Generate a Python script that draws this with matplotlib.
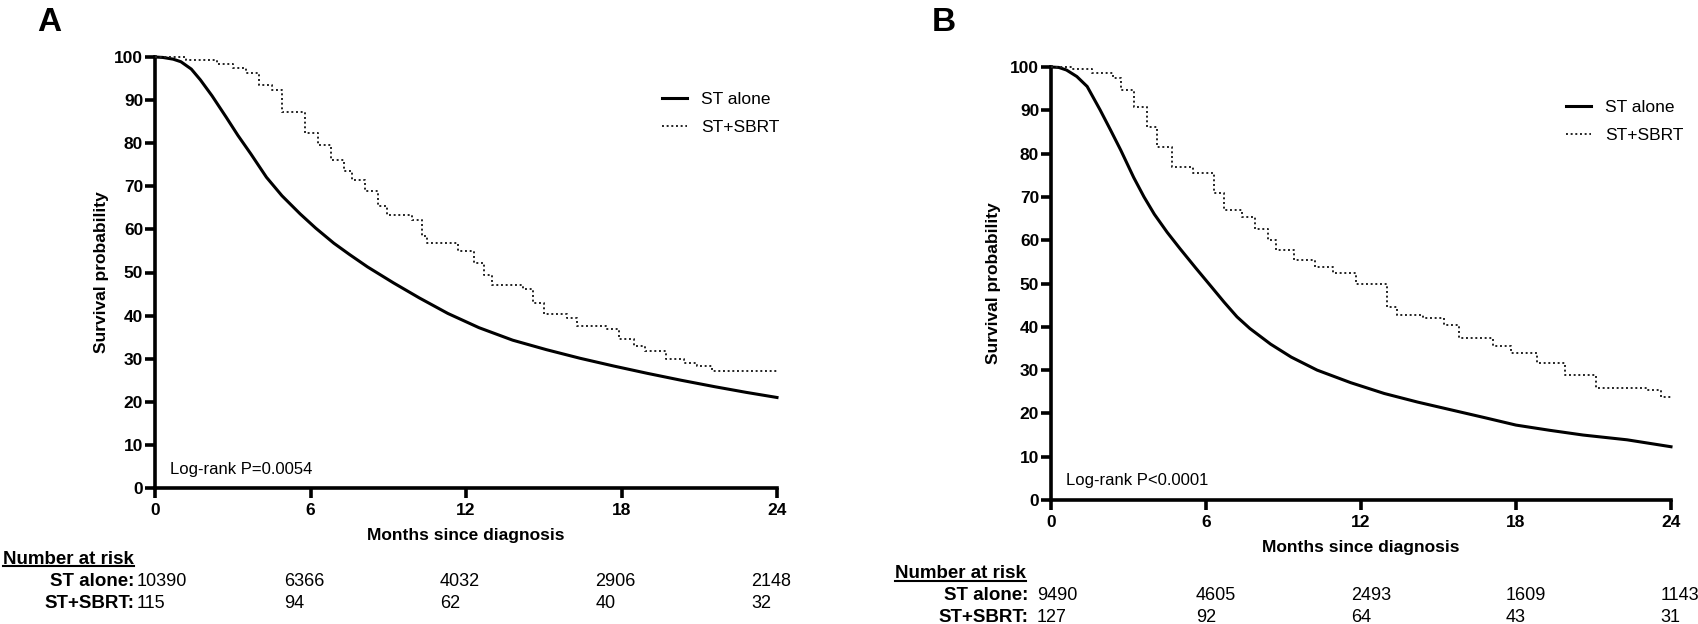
import matplotlib
matplotlib.use("Agg")
import matplotlib.pyplot as plt
from matplotlib import transforms
from matplotlib.lines import Line2D

plt.rcParams['font.family'] = ['Liberation Sans', 'DejaVu Sans']

# ---- data ----
months_ticks = [0, 6, 12, 18, 24]

# panel A
a_st_t = [0, 0.3, 0.7, 1.0, 1.4, 1.75, 2.2, 2.75, 3.2, 3.7, 4.3, 4.9, 5.6, 6.2, 6.9, 7.5, 8.2,
          9.2, 10.2, 11.3, 12.5, 13.8, 15.1, 16.4, 17.7, 19.0, 20.3, 21.6, 22.8, 24]
a_st_v = [100, 99.9, 99.5, 98.9, 97.2, 94.7, 91.0, 86.0, 81.8, 77.5, 72.1, 67.8, 63.6, 60.3, 56.8, 54.2, 51.3,
          47.6, 44.1, 40.5, 37.2, 34.3, 32.1, 30.1, 28.3, 26.6, 25.0, 23.5, 22.2, 21.0]
a_sbrt_t = [0, 1.2, 2.4, 3.0, 3.5, 4.0, 4.5, 4.9, 5.8, 6.3, 6.8, 7.3, 7.6, 8.1, 8.6, 8.95,
            9.9, 10.3, 10.5, 11.7, 12.3, 12.7, 13.0, 14.2, 14.6, 15.0, 15.9, 16.3, 17.4, 17.9,
            18.5, 18.9, 19.7, 20.4, 20.9, 21.5, 24]
a_sbrt_v = [100, 99.3, 98.4, 97.4, 96.2, 93.5, 92.3, 87.3, 82.3, 79.5, 76.1, 73.5, 71.5, 68.8, 65.5, 63.3,
            62.2, 58.5, 56.9, 55.0, 52.2, 49.5, 47.2, 46.1, 43.0, 40.3, 39.5, 37.6, 36.9, 34.5,
            33.0, 31.8, 29.9, 29.0, 28.3, 27.1, 27.1]
a_risk_st = ['10390', '6366', '4032', '2906', '2148']
a_risk_sbrt = ['115', '94', '62', '40', '32']
a_pval = 'Log-rank P=0.0054'

# panel B
b_st_t = [0, 0.3, 0.6, 1.0, 1.4, 1.9, 2.3, 2.7, 3.2, 3.6, 4.0, 4.5, 5.0, 5.6, 6.2, 6.7, 7.2, 7.7,
          8.5, 9.3, 10.3, 11.6, 12.9, 14.2, 15.5, 16.8, 18.0, 19.3, 20.6, 22.3, 24]
b_st_v = [100, 99.9, 99.3, 97.8, 95.5, 90.1, 85.5, 80.8, 74.5, 70.0, 66.0, 61.8, 58.0, 53.6, 49.3, 45.7, 42.3, 39.6,
          36.0, 33.0, 30.0, 27.1, 24.6, 22.6, 20.8, 19.0, 17.3, 16.1, 15.0, 13.9, 12.3]
b_sbrt_t = [0, 0.8, 1.6, 2.4, 2.7, 3.2, 3.7, 4.1, 4.7, 5.5, 6.3, 6.7, 7.4, 7.9, 8.4, 8.7, 9.4,
            10.2, 10.9, 11.8, 13.0, 13.4, 14.4, 15.2, 15.8, 17.1, 17.8, 18.8, 19.9, 21.1, 23.1, 23.6, 24]
b_sbrt_v = [100, 99.5, 98.5, 97.4, 94.7, 90.8, 86.2, 81.6, 77.0, 75.5, 70.8, 67.0, 65.4, 62.5, 60.0, 57.7, 55.4,
            53.9, 52.4, 50.0, 44.6, 42.7, 42.0, 40.4, 37.3, 35.5, 33.9, 31.6, 28.9, 25.8, 25.4, 23.9, 23.9]
b_risk_st = ['9490', '4605', '2493', '1609', '1143']
b_risk_sbrt = ['127', '92', '64', '43', '31']
b_pval = 'Log-rank P<0.0001'

W, H = 1698, 624
fig = plt.figure(figsize=(W / 100, H / 100), dpi=100)


def fx(px):
    return px / W


def fy(py):
    return 1 - py / H


def km_panel(rect, st_t, st_v, sb_t, sb_v, pval, leg_anchor, xlab_y, ylab_x):
    ax = fig.add_axes(rect)
    ax.plot(st_t, st_v, color='black', lw=2.2, clip_on=False, zorder=3,
            solid_joinstyle='round')
    ax.plot(sb_t, sb_v, color='#222222', lw=1.4, ls=(0, (1, 1.4)),
            drawstyle='steps-post', clip_on=False, zorder=3)
    ax.set_xlim(0, 24)
    ax.set_ylim(0, 100)
    ax.set_xticks(months_ticks)
    ax.set_yticks(range(0, 101, 10))
    for s in ['top', 'right']:
        ax.spines[s].set_visible(False)
    for s in ['left', 'bottom']:
        ax.spines[s].set_linewidth(2.6)
    ax.tick_params(axis='both', width=2.6, length=7, labelsize=12.5)
    ax.tick_params(axis='y', pad=1.5)
    ax.tick_params(axis='x', pad=4)
    for lab in ax.get_xticklabels() + ax.get_yticklabels():
        lab.set_fontweight('bold')
    ax.set_xlabel('Months since diagnosis', fontsize=12.5, fontweight='bold', va='center')
    ax.set_ylabel('Survival probability', fontsize=12.5, fontweight='bold', va='center')
    ax.xaxis.set_label_coords(0.5, xlab_y)
    ax.yaxis.set_label_coords(ylab_x, 0.5)
    ax.text(0.024, 0.044, pval, transform=ax.transAxes, fontsize=12, va='center', ha='left')
    handles = [Line2D([], [], color='black', lw=2.2),
               Line2D([], [], color='#222222', lw=1.4, ls=(0, (1, 1.4)))]
    ax.legend(handles, ['ST alone', 'ST+SBRT'], loc='upper left', bbox_to_anchor=leg_anchor,
              frameon=False, borderpad=0, borderaxespad=0, handlelength=1.45,
              handletextpad=0.8, labelspacing=0.75, fontsize=12.5)
    return ax


axA = km_panel([fx(155), fy(488), fx(622), 431 / H], a_st_t, a_st_v, a_sbrt_t, a_sbrt_v,
               a_pval, (0.815, 0.92), -0.11, -0.0868)
axB = km_panel([fx(1051), fy(500), fx(620), 433 / H], b_st_t, b_st_v, b_sbrt_t, b_sbrt_v,
               b_pval, (0.831, 0.925), -0.11, -0.0935)

fig.text(fx(37), fy(31), 'A', fontsize=24, fontweight='bold', va='baseline')
fig.text(fx(932), fy(31), 'B', fontsize=24, fontweight='bold', va='baseline')


def risk_table(ax, left_px, label_right_px, rows_px, st_vals, sb_vals, first_x, col_off):
    fig.canvas.draw()
    r = fig.canvas.get_renderer()
    t = fig.text(fx(left_px), fy(rows_px[0]), 'Number at risk', fontsize=13.5,
                 fontweight='bold', va='baseline')
    bb = t.get_window_extent(renderer=r)
    fig.add_artist(Line2D([bb.x0 / W, bb.x1 / W], [fy(rows_px[0] + 2.5)] * 2,
                          color='black', lw=1.5, transform=fig.transFigure))
    trans = transforms.blended_transform_factory(ax.transData, fig.transFigure)
    for name, vals, row in [('ST alone:', st_vals, rows_px[1]), ('ST+SBRT:', sb_vals, rows_px[2])]:
        fig.text(fx(label_right_px), fy(row), name, fontsize=13.5, fontweight='bold',
                 ha='right', va='baseline')
        for i, (m, v) in enumerate(zip(months_ticks, vals)):
            x = first_x if i == 0 else m + col_off
            fig.text(x, fy(row), v, fontsize=13, ha='left', va='baseline', transform=trans)


risk_table(axA, 3, 134, [563.5, 586.5, 608.5], a_risk_st, a_risk_sbrt, -0.69, -1.0)
risk_table(axB, 895, 1028, [578.5, 599.5, 621.5], b_risk_st, b_risk_sbrt, -0.55, -0.4)

fig.savefig('out.png', dpi=100)
